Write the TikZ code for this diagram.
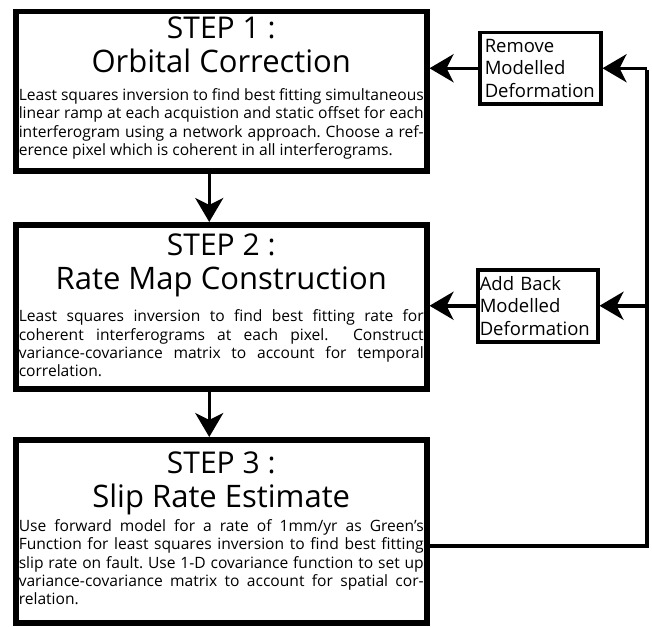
\documentclass[tikz,border=0pt]{standalone}
\usepackage{fontspec}
\setmainfont{Open Sans}
\usetikzlibrary{arrows.meta}

\newcommand{\stepfont}{\fontsize{30}{34}\selectfont}
\newcommand{\namefont}{\fontsize{31}{34}\selectfont}
\newcommand{\bodyfont}{\fontsize{15.6}{18.3}\selectfont\hyphenpenalty=10000\frenchspacing }
\newcommand{\lastdepth}[1]{\rule[-#1]{0pt}{#1}}

\begin{document}
\begin{tikzpicture}[x=1pt,y=-1pt,
  stepbox/.style={draw,line width=5.5pt,anchor=north west,inner xsep=2pt,inner ysep=2pt,
    minimum width=411pt,text width=405pt,align=justify},
  sidebox/.style={draw,line width=3.5pt,anchor=north west,inner xsep=2pt,inner ysep=1pt,
    text width=116pt,align=left,font=\fontsize{18.5}{22.5}\selectfont},
  link/.style={line width=3.5pt,-{Stealth[length=24pt,width=28pt,inset=7pt]}},
  loop/.style={line width=3.5pt}]

\useasboundingbox (0,0) rectangle (652,626);

% the three steps
\node[stepbox,minimum height=159pt] (s1) at (13,9) {%
  {\centering\stepfont STEP 1 :\\ \namefont Orbital Correction\par}\vspace{9.7pt}
  {\bodyfont Least squares inversion to find best fitting simultaneous\linebreak
  linear ramp at each acquistion and static offset for each\linebreak
  interferogram using a network approach. Choose a ref-\linebreak
  erence pixel which is coherent in all interferograms.\lastdepth{10.4pt}\par}};
\node[stepbox,minimum height=164pt] (s2) at (13,222) {%
  {\centering\stepfont STEP 2 :\\ \namefont Rate Map Construction\par}\vspace{12pt}
  {\bodyfont Least squares inversion to find best fitting rate for\linebreak
  coherent interferograms at each pixel.\ \ Construct\linebreak
  variance-covariance matrix to account for temporal\linebreak
  correlation.\lastdepth{3pt}\par}};
\node[stepbox,minimum height=183pt] (s3) at (13,437) {%
  {\centering\stepfont STEP 3 :\\ \namefont Slip Rate Estimate\par}\vspace{4pt}
  {\bodyfont Use forward model for a rate of 1mm/yr as Green's\linebreak
  Function for least squares inversion to find best fitting\linebreak
  slip rate on fault. Use 1-D covariance function to set up\linebreak
  variance-covariance matrix to account for spatial cor-\linebreak
  relation.\lastdepth{6.5pt}\par}};

% model boxes
\node[sidebox,inner xsep=5pt,text width=111pt,minimum width=121pt,minimum height=71pt] (rm) at (478,31) {Remove\\ Modelled\\ Deformation};
\node[sidebox,minimum width=117pt,minimum height=72pt] (ab) at (476,268) {Add Back\\ Modelled\\ Deformation};

% step to step
\draw[link] ([xshift=-12pt]s1.south) -- ([xshift=-12pt]s2.north);
\draw[link] ([xshift=-12pt]s2.south) -- ([xshift=-12pt]s3.north);

% feedback loop
\coordinate (loopbot) at (647,546);
\draw[loop] (s3.east |- loopbot) -- (loopbot) -- ([yshift=-1.75pt]rm.east -| loopbot);
\draw[link] (rm.east -| loopbot) -- (rm.east);
\draw[link] (ab.east -| loopbot) -- (ab.east);
\draw[link] (rm.west) -- (s1.east |- rm.west);
\draw[link] (ab.west) -- (s2.east |- ab.west);

\end{tikzpicture}
\end{document}
